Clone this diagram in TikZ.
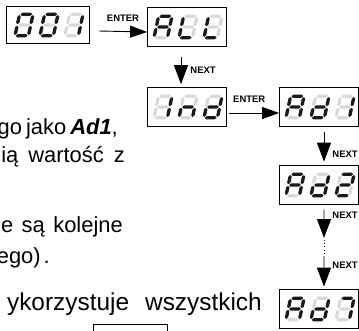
\documentclass[tikz,border=0pt]{standalone}
\usepackage{fontspec}
\setmainfont{Liberation Sans}
\usetikzlibrary{arrows.meta}

\definecolor{segoff}{HTML}{D9D9D9}
\definecolor{segon}{HTML}{1A1A1A}

\tikzset{
    display/.style={draw, fill=white, line width=.8bp, minimum width=79bp, minimum height=39bp, inner sep=0pt},
    key/.style={font=\bfseries\fontsize{9.5}{10}\selectfont, inner sep=0pt},
    txt/.style={font=\fontsize{22}{26}\selectfont, anchor=base east, inner sep=0pt},
    enter/.style={line width=.9bp, -{Triangle[length=17bp, width=12bp]}},
    next/.style={line width=.9bp, -{Triangle[length=19bp, width=14bp]}},
    seg0/.style={fill=segoff},
    seg1/.style={fill=segon},
}

% one segment, horizontal or vertical
\newcommand{\hseg}[2]{\fill[seg#1] (-4.9,#2) -- ++(1.4,1.4) -- ++(7,0) -- ++(1.4,-1.4) -- ++(-1.4,-1.4) -- ++(-7,0) -- cycle;}
\newcommand{\vseg}[3]{\fill[seg#1] (#2,#3) -- ++(1.4,1.4) -- ++(0,5.4) -- ++(-1.4,1.4) -- ++(-1.4,-1.4) -- ++(0,-5.4) -- cycle;}
% segments a b c d e f g
\def\segs#1#2#3#4#5#6#7{%
    \hseg{#1}{9.6}\vseg{#2}{5.6}{.7}\vseg{#3}{5.6}{-8.9}\hseg{#4}{-9.6}%
    \vseg{#5}{-5.6}{-8.9}\vseg{#6}{-5.6}{.7}\hseg{#7}{0}}
\newcommand{\digitat}[3]{%
    \begin{scope}[shift={(#1)}, xshift=#2bp, yscale=-1.12, xscale=1.2, xslant=-.2]\segs#3\end{scope}}
\newcommand{\display}[6][]{%
    \node[display, #1] (#2) at (#3) {};
    \digitat{#2}{-24}{#4}\digitat{#2}{1}{#5}\digitat{#2}{26}{#6}}

\begin{document}
\begin{tikzpicture}[x=1bp, y=-1bp]
    \useasboundingbox (0,0) rectangle (359,331);
    \clip (0,0) rectangle (359,331);

    % text of the page
    \node[txt] (t1) at (118,134) {go\hspace{4bp}jako\hspace{4bp}\textbf{\textit{Ad1}},};
    \node[txt] (t2) at (125,162) {ią\hspace{10bp}wartość\hspace{10bp}z};
    \node[txt] (t3) at (123,232) {e\hspace{8.5bp}są\hspace{8.5bp}kolejne};
    \node[txt] (t4) at (50,263) {ego)\hspace{3bp}.};
    \node[txt, font=\fontsize{24.5}{30}\selectfont] (t5) at (262,310) {ykorzystuje\hspace{16bp}wszystkich};
    \draw[line width=.8bp] (93,340) |- (167,324) -- (167,340);

    % displays
    \display[minimum width=83bp, minimum height=37bp]{n001}{48,25}{1111110}{1111110}{0110000}
    \display{nALL}{187,27}{1110111}{0001110}{0001110}
    \display{nInd}{187,107}{0110000}{0010101}{0111101}
    \display{nAd1}{319,107}{1110111}{0111101}{0110000}
    \display{nAd2}{319,185}{1110111}{0111101}{1101101}
    \display{nAd7}{319,309}{1110111}{0111101}{1110000}

    % keys
    \draw[enter] ([xshift=9bp, yshift=-6bp]n001.east) -- node[key, above=10bp]{ENTER} ([yshift=-5bp]nALL.west);
    \draw[next] ([xshift=-6bp, yshift=-10bp]nALL.south) -- node[key, right=9bp, pos=.5]{NEXT} ([xshift=-6bp, yshift=3bp]nInd.north);
    \draw[enter] ([xshift=2.5bp, yshift=-6bp]nInd.east) -- node[key, above=10bp, xshift=-5bp]{ENTER} ([yshift=-6bp]nAd1.west);
    \draw[next] ([xshift=5bp, yshift=-5bp]nAd1.south) -- node[key, right=8bp, pos=.74]{NEXT} ([xshift=5bp, yshift=3.5bp]nAd2.north);
    \coordinate (gapA) at (324,238);
    \coordinate (gapB) at (324,256);
    \draw[next] ([xshift=5bp, yshift=-4.5bp]nAd2.south) -- node[key, right=8bp, pos=.2]{NEXT} (gapA);
    \draw[line width=.9bp, dash pattern=on .8bp off 2.4bp] ([yshift=-2bp]gapA) -- (gapB);
    \draw[next] (gapB) -- node[key, right=8bp, pos=.3]{NEXT} ([xshift=5bp, yshift=2.5bp]nAd7.north);
\end{tikzpicture}
\end{document}
